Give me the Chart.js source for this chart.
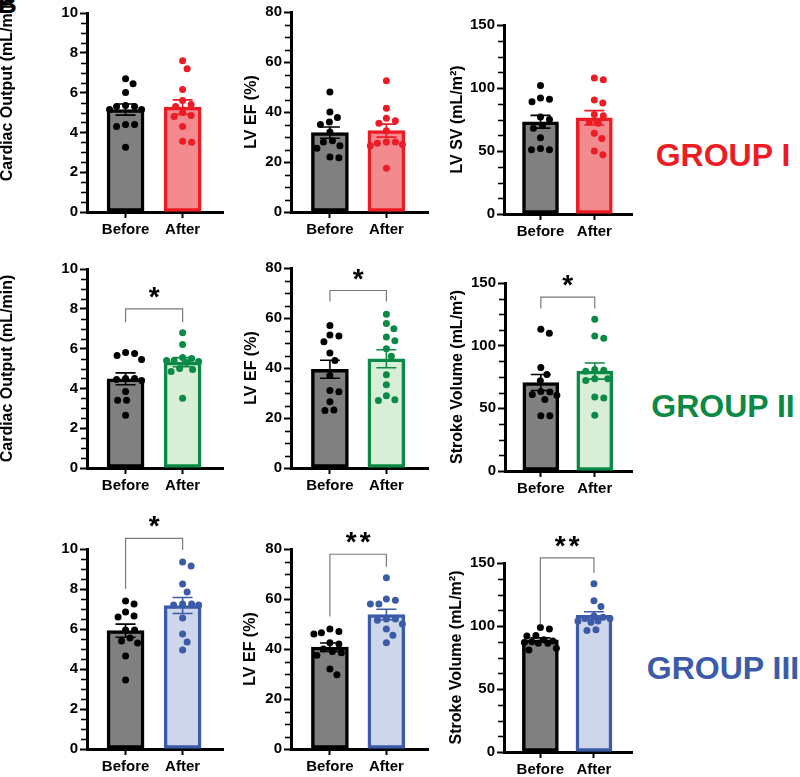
<!DOCTYPE html>
<html>
<head>
<meta charset="utf-8">
<script src="https://cdn.jsdelivr.net/npm/chart.js@4/dist/chart.umd.min.js"></script>
<style>
html, body { margin: 0; padding: 0; background: #fff; }
#fig { position: relative; width: 800px; height: 777px; overflow: hidden; background: #fff; }
#fig canvas { position: absolute; }
.grp { position: absolute; width: 220px; text-align: center; font: bold 32px "Liberation Sans", Arial, sans-serif; line-height: 32px; white-space: nowrap; }
#letter { position: absolute; left: -2px; top: -9px; font: bold 26px "Liberation Sans", Arial, sans-serif; line-height: 26px; }
</style>
</head>
<body>
<div id="fig">
	<div id="letter">B</div>
	<div class="grp" style="left:613px; top:139px; color:#ed1c24">GROUP I</div>
	<div class="grp" style="left:613px; top:390px; color:#0b8a45">GROUP II</div>
	<div class="grp" style="left:613px; top:652px; color:#3b5ba8">GROUP III</div>
</div>
<script>
// 데이터
const categories = ['Before', 'After'];

// Group I
const g1CardiacBefore = [6.7, 6.45, 6.0, 5.3, 5.35, 5.3, 5.15, 5.15, 4.4, 4.3, 4.4, 3.25];
const g1CardiacAfter = [7.6, 7.2, 6.15, 5.6, 5.4, 5.3, 5.0, 4.85, 4.8, 4.3, 3.5, 3.55];
const g1EfBefore = [48, 40, 37.8, 36, 35, 32, 28.5, 28, 26.5, 25.5, 21.7, 22];
const g1EfAfter = [52.5, 41.5, 37.5, 36.5, 35.5, 32.5, 28, 28, 27, 26.5, 27.5, 17.5];
const g1SvBefore = [102, 91, 89, 92, 77, 75, 70, 68, 60.5, 51, 52, 51];
const g1SvAfter = [108, 106.5, 88, 90.5, 78, 79, 73, 72, 64, 60, 47, 50];

// Group II
const g2CardiacBefore = [5.8, 5.75, 5.65, 5.45, 4.5, 4.45, 4.5, 4.4, 3.85, 3.4, 3.4, 2.65];
const g2CardiacAfter = [6.8, 6.2, 5.55, 5.5, 5.4, 5.4, 5.35, 5.3, 5.0, 4.95, 4.85, 3.5];
const g2EfBefore = [57, 53.2, 52.8, 50.5, 46, 43, 37, 31, 30.5, 26.5, 23.2, 23];
const g2EfAfter = [61.5, 57.8, 55.7, 52.4, 50.9, 47.7, 44.7, 37.3, 33.3, 28.9, 27, 27.3];
const g2SvBefore = [113, 110, 82.5, 77, 72, 63.5, 63, 60.5, 61, 57, 44, 44];
const g2SvAfter = [121, 107.7, 106, 80.3, 79.5, 81, 73.7, 72.3, 73.7, 59, 58.2, 44.4];

// Group III
const g3CardiacBefore = [7.4, 7.25, 6.85, 6.65, 6.6, 5.95, 5.95, 5.4, 5.55, 5.3, 4.65, 3.45];
const g3CardiacAfter = [9.35, 9.15, 8.25, 7.85, 7.25, 7.2, 7.2, 7.25, 6.55, 5.75, 5.35, 4.95];
const g3EfBefore = [48, 46, 46.5, 47, 42.5, 42, 40, 39, 37.5, 38.5, 32, 29.7];
const g3EfAfter = [68.5, 60, 59.5, 58, 58, 50, 52, 51.5, 52, 48, 45.5, 42.5];
const g3SvBefore = [98.8, 97.7, 92.5, 92, 89, 88, 87, 87.5, 86.3, 86.3, 82.3, 81];
const g3SvAfter = [133.5, 120, 115.5, 108, 104, 103, 107, 106, 106, 104, 97, 96.5];

// 축 눈금
const coTicks = { max: 10, step: 2 };
const efTicks = { max: 80, step: 20 };
const svTicks = { max: 150, step: 50 };

const FONT = '"Liberation Sans", Arial, sans-serif';
const beforeStyle = { line: '#000000', fill: '#808080' };
const groupStyle = [
	{ line: '#ec1c24', fill: '#f38a8f' },
	{ line: '#0b8a45', fill: '#d9eed6' },
	{ line: '#3b5ba8', fill: '#cdd6eb' }
];

function mean(a) { return a.reduce((s, v) => s + v, 0) / a.length; }
function sem(a) {
	let m = mean(a);
	let v = a.reduce((s, x) => s + (x - m) * (x - m), 0) / (a.length - 1);
	return Math.sqrt(v / a.length);
}

// 패널 배치: [y축 x, 최대값 y, 0 y, x축 끝]
const panels = [
	{ before: g1CardiacBefore, after: g1CardiacAfter, g: 0, t: coTicks, title: 'Cardiac Output (mL/min)', tdx: 79, tdy: -25, geo: [87, 13, 212, 223], xr: [-0.676, 1.708], bar: 37 },
	{ before: g1EfBefore, after: g1EfAfter, g: 0, t: efTicks, title: 'LV EF (%)', tdx: 39, tdy: 0, geo: [291, 12, 212, 428], xr: [-0.689, 1.737], bar: 37 },
	{ before: g1SvBefore, after: g1SvAfter, g: 0, t: svTicks, title: 'LV SV (mL/m²)', tdx: 46, tdy: 0, geo: [504, 25, 214, 632], xr: [-0.678, 1.70], bar: 36 },

	{ before: g2CardiacBefore, after: g2CardiacAfter, g: 1, t: coTicks, title: 'Cardiac Output (mL/min)', tdx: 79, tdy: 0, geo: [87, 269, 468, 223], xr: [-0.676, 1.708], bar: 37,
		br: { y: 8.0, yl: 7.33, yr: 7.33, s: '*' } },
	{ before: g2EfBefore, after: g2EfAfter, g: 1, t: efTicks, title: 'LV EF (%)', tdx: 39, tdy: 0, geo: [291, 268, 468, 428], xr: [-0.689, 1.737], bar: 37,
		br: { y: 71, yl: 66.6, yr: 66.6, s: '*' } },
	{ before: g2SvBefore, after: g2SvAfter, g: 1, t: svTicks, title: 'Stroke Volume (mL/m²)', tdx: 47, tdy: 0, geo: [505, 283, 471, 632], xr: [-0.664, 1.69], bar: 36,
		br: { y: 138.8, yl: 129.6, yr: 129.6, s: '*' } },

	{ before: g3CardiacBefore, after: g3CardiacAfter, g: 2, t: coTicks, title: null, tdx: 79, tdy: 0, geo: [87, 549, 749, 223], xr: [-0.676, 1.708], bar: 37,
		br: { y: 10.53, yl: 8.0, yr: 9.95, s: '*' } },
	{ before: g3EfBefore, after: g3EfAfter, g: 2, t: efTicks, title: 'LV EF (%)', tdx: 40, tdy: 0, geo: [291, 549, 749, 428], xr: [-0.689, 1.737], bar: 37,
		br: { y: 77.9, yl: 53, yr: 72.9, s: '**' } },
	{ before: g3SvBefore, after: g3SvAfter, g: 2, t: svTicks, title: 'Stroke Volume (mL/m²)', tdx: 47, tdy: 0, geo: [504, 563, 752, 632], xr: [-0.679, 1.71], bar: 36,
		br: { y: 154, yl: 100.9, yr: 142, s: '**' } }
];

const AXW = 90, PADT = 45, AXH = 35, PADR = 4;

function makeDeco(p) {
	return {
		id: 'deco',
		afterDatasetDraw(chart, args) {
			if (args.meta.type !== 'bar') return;
			let ctx = chart.ctx, xs = chart.scales.x, ys = chart.scales.y;
			let sets = [[p.before, beforeStyle.line], [p.after, groupStyle[p.g].line]];
			sets.forEach((s, i) => {
				let m = mean(s[0]), e = sem(s[0]);
				let x = xs.getPixelForValue(i);
				let y1 = ys.getPixelForValue(m + e), y2 = ys.getPixelForValue(m - e);
				ctx.save();
				ctx.strokeStyle = s[1];
				ctx.lineWidth = 1.6;
				ctx.beginPath();
				ctx.moveTo(x, y1); ctx.lineTo(x, y2);
				ctx.moveTo(x - 10, y1); ctx.lineTo(x + 10, y1);
				ctx.moveTo(x - 10, y2); ctx.lineTo(x + 10, y2);
				ctx.stroke();
				ctx.restore();
			});
		},
		afterDraw(chart) {
			let ctx = chart.ctx, xs = chart.scales.x, ys = chart.scales.y, ca = chart.chartArea;
			ctx.save();
			// 보조 눈금
			ctx.strokeStyle = '#000';
			ctx.lineWidth = 1.6;
			let minor = p.t.step / 4;
			for (let v = minor; v < p.t.max; v += minor) {
				if (Math.abs(v / p.t.step - Math.round(v / p.t.step)) < 1e-6) continue;
				let y = Math.round(ys.getPixelForValue(v)) + 0.5;
				ctx.beginPath();
				ctx.moveTo(ca.left - 6, y);
				ctx.lineTo(ca.left, y);
				ctx.stroke();
			}
			// y축 제목
			if (p.title) {
				ctx.translate(ca.left - p.tdx, (ca.top + ca.bottom) / 2 + p.tdy);
				ctx.rotate(-Math.PI / 2);
				ctx.fillStyle = '#000';
				ctx.font = 'bold 16px ' + FONT;
				ctx.textAlign = 'center';
				ctx.textBaseline = 'middle';
				ctx.fillText(p.title, 0, 0);
				ctx.setTransform(1, 0, 0, 1, 0, 0);
			}
			// 유의성 표시
			if (p.br) {
				let x0 = xs.getPixelForValue(0), x1 = xs.getPixelForValue(1);
				let yb = ys.getPixelForValue(p.br.y);
				ctx.strokeStyle = '#7a7a7a';
				ctx.lineWidth = 1.2;
				ctx.beginPath();
				ctx.moveTo(x0, ys.getPixelForValue(p.br.yl));
				ctx.lineTo(x0, yb);
				ctx.lineTo(x1, yb);
				ctx.lineTo(x1, ys.getPixelForValue(p.br.yr));
				ctx.stroke();
				ctx.fillStyle = '#000';
				ctx.font = 'bold 28px ' + FONT;
				ctx.textAlign = 'center';
				ctx.textBaseline = 'alphabetic';
				let mid = (x0 + x1) / 2;
				if (p.br.s.length === 2) {
					ctx.fillText('*', mid - 7, yb - 3);
					ctx.fillText('*', mid + 7, yb - 3);
				} else {
					ctx.fillText(p.br.s, mid, yb - 3);
				}
			}
			ctx.restore();
		}
	};
}

// 비스웜 배치 (막대 폭 안에서 좌우로 펼침)
function swarm(values, ys, d, lim) {
	let pts = values.map(v => ({ v: v, py: ys.getPixelForValue(v), dx: 0 }));
	let order = pts.slice().sort((a, b) => b.v - a.v);
	let placed = [];
	order.forEach(pt => {
		let best = 0, bestGap = -1;
		for (let k = 0; k <= lim * 4; k++) {
			let step = Math.ceil(k / 2) * 0.5;
			let dx = k % 2 ? step : -step;
			let gap = placed.reduce((g, q) => Math.min(g, Math.hypot(dx - q.dx, pt.py - q.py)), Infinity);
			if (gap >= d) { best = dx; bestGap = gap; break; }
			if (gap > bestGap) { bestGap = gap; best = dx; }
		}
		pt.dx = best;
		placed.push(pt);
	});
	return pts.map(pt => pt.dx);
}

window.addEventListener("load", function() {
	let fig = document.getElementById('fig');

	panels.forEach(p => {
		let [ax, top, bottom, right] = p.geo;
		let L = ax - AXW, T = top - PADT;
		let W = right + PADR - L, H = bottom + AXH - T;

		let canvas = document.createElement('canvas');
		canvas.width = W;
		canvas.height = H;
		canvas.style.left = L + 'px';
		canvas.style.top = T + 'px';
		canvas.style.width = W + 'px';
		canvas.style.height = H + 'px';
		fig.appendChild(canvas);

		let st = groupStyle[p.g];
		let tickFont = { family: FONT, size: 15, weight: 'bold' };

		let chart = new Chart(canvas.getContext('2d'), {
			type: 'scatter',
			data: {
				datasets: [
					{
						type: 'scatter',
						data: p.before.map(v => ({ x: 0, y: v })),
						backgroundColor: beforeStyle.line,
						pointRadius: 3.5,
						borderWidth: 0,
						order: 0
					},
					{
						type: 'scatter',
						data: p.after.map(v => ({ x: 1, y: v })),
						backgroundColor: st.line,
						pointRadius: 3.5,
						borderWidth: 0,
						order: 0
					},
					{
						type: 'bar',
						data: [{ x: 0, y: mean(p.before) }, { x: 1, y: mean(p.after) }],
						backgroundColor: [beforeStyle.fill, st.fill],
						borderColor: [beforeStyle.line, st.line],
						borderWidth: 3.5,
						borderSkipped: false,
						barThickness: p.bar,
						order: 1
					}
				]
			},
			options: {
				responsive: false,
				animation: false,
				events: [],
				layout: { padding: { left: 0, top: PADT, right: PADR, bottom: 0 } },
				plugins: { legend: { display: false }, tooltip: { enabled: false } },
				scales: {
					x: {
						type: 'linear',
						min: p.xr[0],
						max: p.xr[1],
						offset: false,
						afterBuildTicks: s => { s.ticks = [{ value: 0 }, { value: 1 }]; },
						afterFit: s => { s.height = AXH; },
						ticks: {
							callback: v => categories[v],
							font: tickFont,
							color: '#000',
							padding: 3,
							maxRotation: 0,
							autoSkip: false
						},
						grid: { display: true, drawOnChartArea: false, offset: false, tickLength: 6, tickWidth: 2, tickColor: '#000' },
						border: { color: '#000', width: 3 }
					},
					y: {
						type: 'linear',
						min: 0,
						max: p.t.max,
						afterFit: s => { s.width = AXW; },
						ticks: { stepSize: p.t.step, font: tickFont, color: '#000', padding: 2 },
						grid: { display: true, drawOnChartArea: false, tickLength: 7, tickWidth: 2, tickColor: '#000' },
						border: { color: '#000', width: 3 }
					}
				}
			},
			plugins: [makeDeco(p)]
		});

		// 점 위치를 스웜으로 다시 계산
		let xs = chart.scales.x, ys = chart.scales.y;
		let unit = xs.getPixelForValue(1) - xs.getPixelForValue(0);
		let dB = swarm(p.before, ys, 9, 16);
		let dA = swarm(p.after, ys, 9, 16);
		chart.data.datasets[0].data = p.before.map((v, i) => ({ x: 0 + dB[i] / unit, y: v }));
		chart.data.datasets[1].data = p.after.map((v, i) => ({ x: 1 + dA[i] / unit, y: v }));
		chart.update('none');
	});
})
</script>
</body>
</html>
